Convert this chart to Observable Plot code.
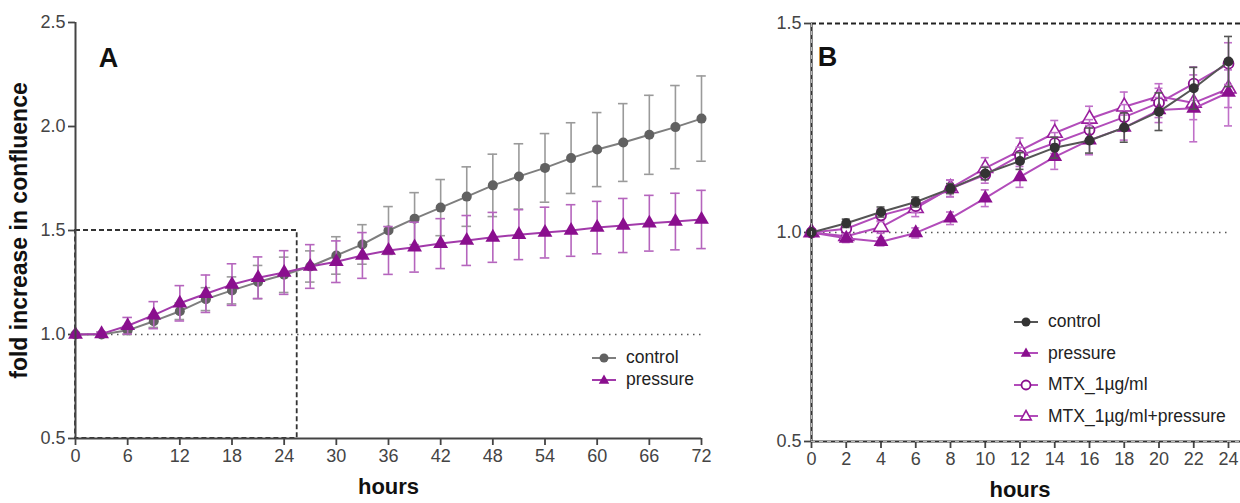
<!DOCTYPE html>
<html>
<head>
<meta charset="utf-8">
<script src="https://cdn.jsdelivr.net/npm/d3@7"></script>
<script src="https://cdn.jsdelivr.net/npm/@observablehq/plot@0.6"></script>
<style>
  body { margin: 0; background: #fff; }
  #wrap { position: relative; width: 1240px; height: 503px; overflow: hidden; font-family: "Liberation Sans", Arial, sans-serif; }
  #a { position: absolute; left: 0; top: 0; }
  #b { position: absolute; left: 760px; top: 0; }
  .legend { position: absolute; font-size: 17.5px; color: #222; line-height: 1; }
  .legend .row { display: flex; align-items: center; white-space: nowrap; }
  .legend svg { margin-right: 10px; }
</style>
</head>
<body>
<div id="wrap">
  <div id="a"></div>
  <div id="b"></div>
  <div class="legend" id="legA" style="left:592px; top:347px;"></div>
  <div class="legend" id="legB" style="left:1014px; top:306px;"></div>
</div>
<script>
// ---------- Panel A data ----------
const hoursA = [0,3,6,9,12,15,18,21,24,27,30,33,36,39,42,45,48,51,54,57,60,63,66,69,72];
const controlA = [1.0,1.0,1.02,1.064,1.112,1.17,1.212,1.252,1.287,1.327,1.38,1.433,1.5,1.557,1.61,1.663,1.717,1.76,1.801,1.848,1.889,1.923,1.96,1.997,2.038];
const controlA_sd = [0,0.01,0.02,0.03,0.04,0.055,0.065,0.08,0.085,0.075,0.09,0.095,0.115,0.125,0.135,0.143,0.15,0.157,0.165,0.17,0.178,0.187,0.19,0.2,0.205];
const pressureA = [1.0,1.003,1.042,1.093,1.15,1.196,1.24,1.273,1.298,1.327,1.35,1.38,1.404,1.42,1.437,1.452,1.467,1.48,1.49,1.5,1.514,1.524,1.535,1.543,1.553];
const pressureA_sd = [0,0.01,0.04,0.065,0.085,0.09,0.1,0.1,0.105,0.105,0.1,0.11,0.115,0.12,0.12,0.12,0.12,0.12,0.122,0.124,0.126,0.13,0.134,0.136,0.14];
const ticksAx = [0,6,12,18,24,30,36,42,48,54,60,66,72];
const ticksAy = [0.5,1.0,1.5,2.0,2.5];
const zoomBox = [{x1: 0, x2: 25.5, y1: 0.5, y2: 1.5}];

// ---------- Panel B data ----------
const hoursB = [0,2,4,6,8,10,12,14,16,18,20,22,24];
const controlB = [1.0,1.022,1.049,1.073,1.105,1.141,1.171,1.203,1.22,1.251,1.289,1.345,1.409];
const controlB_sd = [0,0.01,0.012,0.012,0.012,0.015,0.02,0.025,0.03,0.035,0.045,0.05,0.06];
const pressureB = [1.0,0.986,0.978,0.999,1.034,1.082,1.133,1.181,1.221,1.251,1.293,1.297,1.335];
const pressureB_sd = [0,0.01,0.01,0.012,0.015,0.02,0.025,0.03,0.035,0.03,0.03,0.08,0.08];
const mtxB = [1.0,1.009,1.041,1.063,1.105,1.138,1.184,1.214,1.245,1.276,1.31,1.356,1.404];
const mtxB_sd = [0,0.01,0.015,0.015,0.02,0.02,0.02,0.025,0.025,0.03,0.035,0.04,0.05];
const mtxPressureB = [1.0,0.991,1.013,1.058,1.106,1.154,1.196,1.238,1.272,1.301,1.326,1.31,1.344];
const mtxPressureB_sd = [0,0.01,0.015,0.02,0.02,0.025,0.03,0.03,0.03,0.035,0.03,0.04,0.045];
const ticksBx = [0,2,4,6,8,10,12,14,16,18,20,22,24];
const ticksBy = [0.5,1.0,1.5];

const seriesNamesA = ["control","pressure"];
const seriesNamesB = ["control","pressure","MTX_1µg/ml","MTX_1µg/ml+pressure"];

const rows = (hs, vs, sds) => hs.map((h, i) => ({h, v: vs[i], sd: sds[i]}));

const FONT = "Liberation Sans, Arial, sans-serif";

function seriesMarks(data, o) {
  const e = data.filter(d => d.sd > 0);
  return [
    Plot.ruleX(e, {x: "h", y1: d => d.v - d.sd, y2: d => d.v + d.sd, stroke: o.err, strokeWidth: 1.6}),
    Plot.ruleY(e, {y: d => d.v + d.sd, x1: d => d.h - o.cap, x2: d => d.h + o.cap, stroke: o.err, strokeWidth: 1.6}),
    Plot.ruleY(e, {y: d => d.v - d.sd, x1: d => d.h - o.cap, x2: d => d.h + o.cap, stroke: o.err, strokeWidth: 1.6}),
    Plot.line(data, {x: "h", y: "v", stroke: o.line, strokeWidth: 2}),
    Plot.dot(data, {x: "h", y: "v", symbol: o.symbol, r: o.r, fill: o.fill, stroke: o.stroke || "none", strokeWidth: o.sw || 0})
  ];
}

// ---------- Panel A ----------
const gray = {err: "#9a9a9a", line: "#7e7e7e", fill: "#616161", symbol: "circle", r: 5, cap: 0.55};
const purple = {err: "#b565bd", line: "#a23aaa", fill: "#8a0f8e", symbol: "triangle", r: 5.5, cap: 0.55};

const plotA = Plot.plot({
  width: 760, height: 503,
  marginLeft: 75, marginRight: 59, marginTop: 22, marginBottom: 65,
  x: {domain: [0, 72]},
  y: {domain: [0.5, 2.5]},
  style: {fontFamily: FONT, background: "#fff"},
  marks: [
    Plot.axisX({ticks: ticksAx, tickSize: 7, tickPadding: 4, fontSize: 18, stroke: "#444", fill: "#444", strokeWidth: 1.8, label: null}),
    Plot.axisY({ticks: ticksAy, tickFormat: ".1f", tickSize: 7, tickPadding: 3, fontSize: 18, stroke: "#444", fill: "#444", strokeWidth: 1.8, label: null}),
    Plot.ruleY([1.0], {x1: 0, x2: 72, stroke: "#555", strokeWidth: 1.6, strokeDasharray: "1.5,4.5"}),
    Plot.rect(zoomBox, {x1: "x1", x2: "x2", y1: "y1", y2: "y2", fill: "none", stroke: "#333", strokeWidth: 1.8, strokeDasharray: "5,3"}),
    ...seriesMarks(rows(hoursA, controlA, controlA_sd), gray),
    ...seriesMarks(rows(hoursA, pressureA, pressureA_sd), purple),
    Plot.ruleX([0], {stroke: "#444", strokeWidth: 2}),
    Plot.ruleY([0.5], {stroke: "#444", strokeWidth: 2}),
    Plot.text(["hours"], {text: d => d, frameAnchor: "bottom", dy: 48, fontSize: 22, fontWeight: "bold", fill: "#111", lineAnchor: "middle"}),
    Plot.text(["fold increase in confluence"], {text: d => d, frameAnchor: "left", dx: -56, rotate: -90, fontSize: 23, fontWeight: "bold", fill: "#111", lineAnchor: "middle", textAnchor: "middle"}),
    Plot.text(["A"], {text: d => d, frameAnchor: "top-left", dx: 33, dy: 36, fontSize: 27, fontWeight: "bold", fill: "#111", textAnchor: "middle", lineAnchor: "middle"})
  ]
});
document.getElementById("a").append(plotA);

// ---------- Panel B ----------
const cB = {err: "#555", line: "#555", fill: "#333", symbol: "circle", r: 5, cap: 0.23};
const pB = {err: "#c070c8", line: "#b24cba", fill: "#8a0f8e", symbol: "triangle", r: 5.5, cap: 0.23};
const mB = {err: "#c070c8", line: "#b24cba", fill: "#fff", stroke: "#8a0f8e", sw: 1.8, symbol: "circle", r: 5, cap: 0.23};
const mpB = {err: "#c070c8", line: "#b24cba", fill: "#fff", stroke: "#9a1f9e", sw: 1.6, symbol: "triangle", r: 5.5, cap: 0.23};

const plotB = Plot.plot({
  width: 480, height: 503,
  marginLeft: 51, marginRight: 12, marginTop: 23, marginBottom: 62,
  x: {domain: [0, 24]},
  y: {domain: [0.5, 1.5]},
  style: {fontFamily: FONT, background: "#fff", overflow: "visible"},
  marks: [
    Plot.axisX({ticks: ticksBx, tickSize: 7, tickPadding: 4, fontSize: 18, stroke: "#444", fill: "#444", strokeWidth: 1.8, label: null}),
    Plot.axisY({ticks: ticksBy, tickFormat: ".1f", tickSize: 7, tickPadding: 3, fontSize: 18, stroke: "#444", fill: "#444", strokeWidth: 1.8, label: null}),
    Plot.ruleY([1.0], {x1: 0, x2: 24, stroke: "#555", strokeWidth: 1.6, strokeDasharray: "1.5,4.5"}),
    Plot.ruleY([1.5], {stroke: "#222", strokeWidth: 1.8, strokeDasharray: "5,3", insetRight: -12}),
    ...seriesMarks(rows(hoursB, mtxPressureB, mtxPressureB_sd), mpB),
    ...seriesMarks(rows(hoursB, mtxB, mtxB_sd), mB),
    ...seriesMarks(rows(hoursB, pressureB, pressureB_sd), pB),
    ...seriesMarks(rows(hoursB, controlB, controlB_sd), cB),
    Plot.ruleX([0], {stroke: "#333", strokeWidth: 2.2}),
    Plot.ruleX([0], {stroke: "#ddd", strokeWidth: 0.8, strokeDasharray: "4,4"}),
    Plot.ruleY([0.5], {stroke: "#333", strokeWidth: 2.2, insetRight: -12}),
    Plot.ruleY([0.5], {stroke: "#ddd", strokeWidth: 0.8, strokeDasharray: "4,4", insetRight: -12}),
    Plot.text(["hours"], {text: d => d, frameAnchor: "bottom", dy: 48, fontSize: 22, fontWeight: "bold", fill: "#111", lineAnchor: "middle"}),
    Plot.text(["B"], {text: d => d, frameAnchor: "top-left", dx: 16, dy: 34, fontSize: 27, fontWeight: "bold", fill: "#111", textAnchor: "middle", lineAnchor: "middle"})
  ]
});
document.getElementById("b").append(plotB);

// ---------- Legends ----------
function swatch(o) {
  const w = 24, h = 14, cx = 12, cy = 7;
  let sym;
  if (o.symbol === "circle") {
    sym = `<circle cx="${cx}" cy="${cy}" r="${o.r - 0.5}" fill="${o.fill}" stroke="${o.stroke || 'none'}" stroke-width="${o.sw || 0}"/>`;
  } else {
    const s = o.r;
    sym = `<path d="M${cx},${cy - s} L${cx + s * 0.95},${cy + s * 0.7} L${cx - s * 0.95},${cy + s * 0.7} Z" fill="${o.fill}" stroke="${o.stroke || 'none'}" stroke-width="${o.sw || 0}"/>`;
  }
  return `<svg width="${w}" height="${h}"><line x1="0" x2="${w}" y1="${cy}" y2="${cy}" stroke="${o.line}" stroke-width="2"/>${sym}</svg>`;
}
function legend(el, names, styles, gap) {
  el.innerHTML = names.map((n, i) =>
    `<div class="row" style="height:${gap}px">${swatch(styles[i])}<span>${n}</span></div>`).join("");
}
legend(document.getElementById("legA"), seriesNamesA, [gray, purple], 22);
legend(document.getElementById("legB"), seriesNamesB, [cB, pB, mB, mpB], 31.5);
</script>
</body>
</html>
